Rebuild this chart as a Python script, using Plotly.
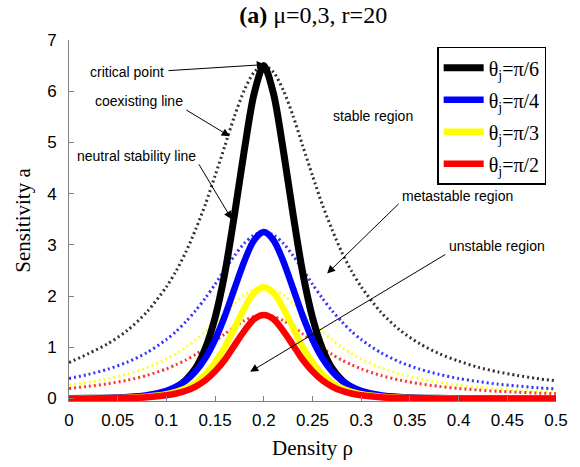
import plotly.graph_objects as go

# density grid
rho = [0, 0.02, 0.04, 0.06, 0.08, 0.10, 0.11, 0.12, 0.13, 0.14, 0.15, 0.16, 0.17, 0.18, 0.19,
       0.20, 0.21, 0.22, 0.23, 0.24, 0.25, 0.26, 0.27, 0.28, 0.29, 0.30, 0.32, 0.34, 0.36, 0.38,
       0.40, 0.42, 0.44, 0.46, 0.48, 0.50]

# neutral stability lines (solid)
black_solid = [0, 0.002, 0.005, 0.015, 0.04, 0.12, 0.21, 0.36, 0.59, 0.98, 1.58, 2.45, 3.6, 4.85, 5.95,
               6.5, 5.95, 4.85, 3.6, 2.45, 1.58, 0.98, 0.59, 0.36, 0.21, 0.12, 0.04, 0.015, 0.005, 0.002,
               0, 0, 0, 0, 0, 0]
blue_solid = [0.002, 0.004, 0.01, 0.026, 0.062, 0.15, 0.23, 0.35, 0.53, 0.79, 1.15, 1.61, 2.15, 2.68, 3.09,
              3.25, 3.09, 2.68, 2.15, 1.61, 1.15, 0.79, 0.53, 0.35, 0.23, 0.15, 0.062, 0.026, 0.01, 0.004,
              0.002, 0.001, 0, 0, 0, 0]
yellow_solid = [0.001, 0.002, 0.005, 0.013, 0.033, 0.081, 0.128, 0.2, 0.31, 0.473, 0.705, 1.0, 1.38, 1.76, 2.06,
                2.17, 2.06, 1.76, 1.38, 1.0, 0.705, 0.473, 0.31, 0.2, 0.128, 0.081, 0.033, 0.013, 0.005, 0.002,
                0.001, 0, 0, 0, 0, 0]
red_solid = [0, 0.001, 0.004, 0.01, 0.024, 0.061, 0.096, 0.15, 0.233, 0.355, 0.53, 0.755, 1.04, 1.32, 1.55,
             1.63, 1.55, 1.32, 1.04, 0.755, 0.53, 0.355, 0.233, 0.15, 0.096, 0.061, 0.024, 0.01, 0.004, 0.001,
             0, 0, 0, 0, 0, 0]

# coexisting lines (dotted)
black_dot = [0.7, 0.875, 1.07, 1.33, 1.69, 2.18, 2.49, 2.86, 3.30, 3.79, 4.35, 4.93, 5.52, 6.02, 6.37,
             6.5, 6.37, 6.02, 5.52, 4.93, 4.35, 3.79, 3.30, 2.86, 2.49, 2.18, 1.69, 1.33, 1.07, 0.875,
             0.73, 0.61, 0.52, 0.45, 0.39, 0.345]
blue_dot = [0.39, 0.47, 0.573, 0.71, 0.895, 1.15, 1.31, 1.50, 1.715, 1.96, 2.23, 2.52, 2.79, 3.03, 3.19,
            3.25, 3.19, 3.03, 2.79, 2.52, 2.23, 1.96, 1.715, 1.50, 1.31, 1.15, 0.895, 0.71, 0.573, 0.47,
            0.39, 0.33, 0.28, 0.244, 0.21, 0.187]
yellow_dot = [0.26, 0.314, 0.383, 0.474, 0.6, 0.77, 0.875, 1.0, 1.145, 1.31, 1.49, 1.68, 1.86, 2.02, 2.13,
              2.17, 2.13, 2.02, 1.86, 1.68, 1.49, 1.31, 1.145, 1.0, 0.875, 0.77, 0.6, 0.474, 0.383, 0.314,
              0.26, 0.22, 0.187, 0.163, 0.14, 0.125]
red_dot = [0.196, 0.236, 0.287, 0.356, 0.45, 0.577, 0.66, 0.75, 0.86, 0.98, 1.12, 1.26, 1.4, 1.52, 1.6,
           1.63, 1.6, 1.52, 1.4, 1.26, 1.12, 0.98, 0.86, 0.75, 0.66, 0.577, 0.45, 0.356, 0.287, 0.236,
           0.196, 0.165, 0.14, 0.122, 0.105, 0.094]

legend_names = ["θ<sub>j</sub>=π/6", "θ<sub>j</sub>=π/4", "θ<sub>j</sub>=π/3", "θ<sub>j</sub>=π/2"]
colors = ["#000000", "#0000ff", "#ffff00", "#ff0000"]
solids = [black_solid, blue_solid, yellow_solid, red_solid]
dots = [black_dot, blue_dot, yellow_dot, red_dot]
solid_widths = [7, 6.5, 6.5, 6.5]

x_ticks = [0, 0.05, 0.1, 0.15, 0.2, 0.25, 0.3, 0.35, 0.4, 0.45, 0.5]
x_tick_text = ["0", "0.05", "0.1", "0.15", "0.2", "0.25", "0.3", "0.35", "0.4", "0.45", "0.5"]
y_ticks = [0, 1, 2, 3, 4, 5, 6, 7]

fig = go.Figure()

for c, yv in zip(colors, dots):
    fig.add_trace(go.Scatter(x=rho, y=yv, mode="lines", showlegend=False, hoverinfo="skip",
                             line=dict(color=c, width=3, dash="2px,3px", shape="spline", smoothing=0.8),
                             opacity=0.8))

for i, (name, c, yv, w) in enumerate(zip(legend_names, colors, solids, solid_widths)):
    fig.add_trace(go.Scatter(x=rho, y=yv, mode="lines", name=name, legendgroup=f"g{i}",
                             line=dict(color=c, width=w, shape="spline", smoothing=0.8)))

ann_font = dict(family="Arial, Liberation Sans, sans-serif", size=14, color="black")

# region / line labels
labels = [
    ("critical point", 0.0596, 6.38),
    ("coexisting line", 0.072, 5.81),
    ("neutral stability line", 0.0693, 4.73),
    ("stable region", 0.3126, 5.52),
    ("metastable region", 0.399, 3.96),
    ("unstable region", 0.4394, 2.98),
]
for txt, xx, yy in labels:
    fig.add_annotation(x=xx, y=yy, text=txt, showarrow=False, font=ann_font,
                       xanchor="center", yanchor="middle")

# pointer arrows: (tail x, tail y, head x, head y)
arrows = [
    (0.1006, 6.40, 0.201, 6.52),
    (0.119, 5.65, 0.165, 5.12),
    (0.1325, 4.60, 0.167, 3.50),
    (0.340, 3.83, 0.265, 2.44),
    (0.388, 2.83, 0.186, 0.52),
]
for tx, ty, hx, hy in arrows:
    fig.add_annotation(x=hx, y=hy, ax=tx, ay=ty, axref="x", ayref="y", xref="x", yref="y",
                       text="", showarrow=True, arrowhead=2, arrowsize=1.6, arrowwidth=1,
                       arrowcolor="black")

fig.update_layout(
    width=580, height=467,
    margin=dict(l=69, r=24, t=40, b=63),
    paper_bgcolor="white", plot_bgcolor="white",
    title=dict(text="<b>(a)</b> μ=0,3, r=20", x=0.54, xanchor="center", y=0.968, yanchor="middle",
               font=dict(family="Times New Roman, Liberation Serif, serif", size=24, color="black")),
    xaxis=dict(range=[0, 0.5], tickvals=x_ticks, ticktext=x_tick_text, ticks="inside", ticklen=5,
               tickcolor="#808080", showline=True, linecolor="#808080", linewidth=1, showgrid=False,
               zeroline=False, ticklabelstandoff=4,
               tickfont=dict(family="Arial, Liberation Sans, sans-serif", size=17, color="black"),
               title=dict(text="Density ρ", standoff=10,
                          font=dict(family="Times New Roman, Liberation Serif, serif", size=21, color="black"))),
    yaxis=dict(range=[-0.05, 7], tickvals=y_ticks, ticks="inside", ticklen=5,
               tickcolor="#808080", showline=True, linecolor="#808080", linewidth=1, showgrid=False,
               zeroline=False, ticklabelstandoff=8,
               tickfont=dict(family="Arial, Liberation Sans, sans-serif", size=17, color="black"),
               title=dict(text="Sensitivity a", standoff=10,
                          font=dict(family="Times New Roman, Liberation Serif, serif", size=21, color="black"))),
    legend=dict(x=0.756, y=0.981, xanchor="left", yanchor="top", bgcolor="white",
                bordercolor="black", borderwidth=1.5,
                font=dict(family="Times New Roman, Liberation Serif, serif", size=20, color="black"),
                itemwidth=40, tracegroupgap=3),
)

fig.write_html("out.html")
